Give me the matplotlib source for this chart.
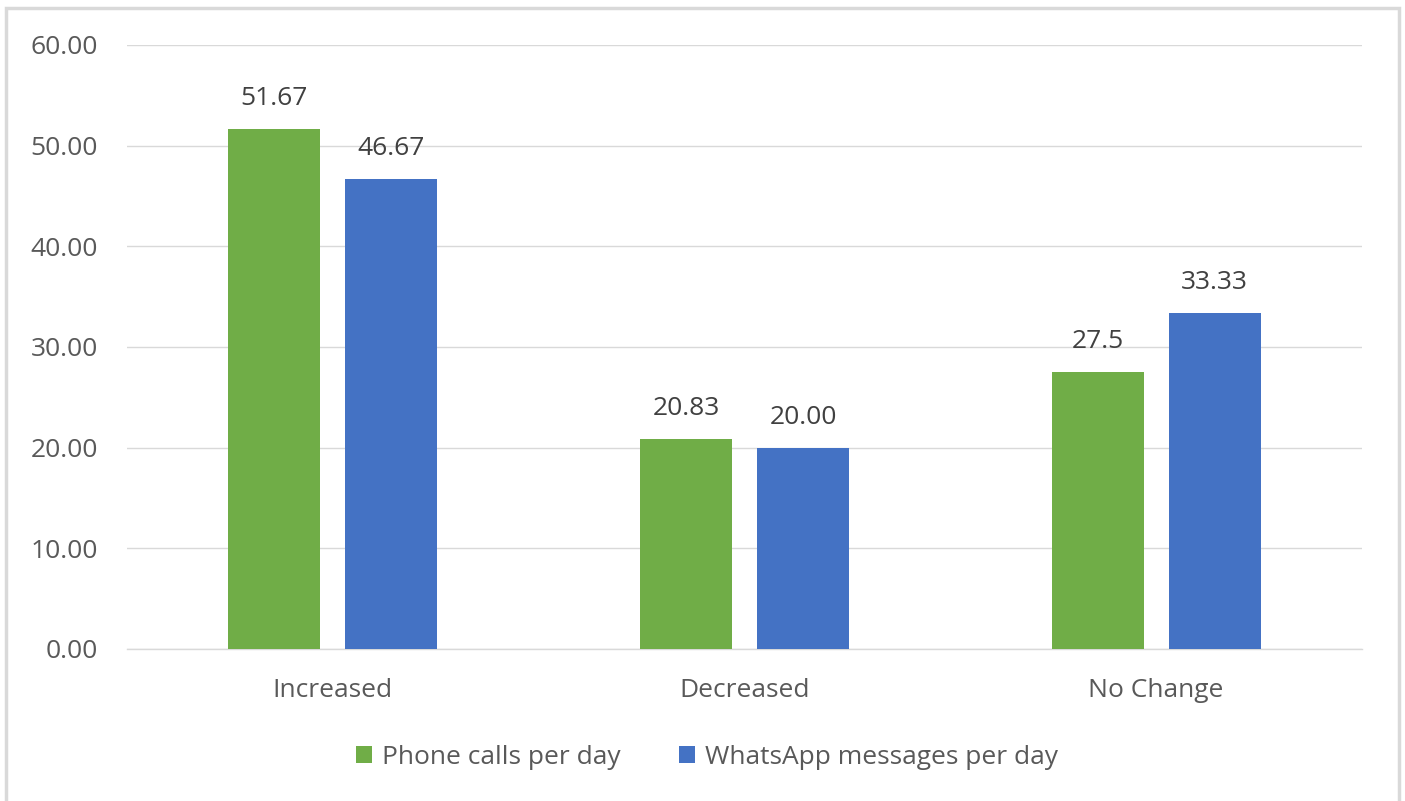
import numpy as np
import matplotlib.pyplot as plt
from matplotlib.patches import Rectangle

categories = ['Increased', 'Decreased', 'No Change']
phone_calls = [51.67, 20.83, 27.5]
whatsapp = [46.67, 20.00, 33.33]
phone_labels = ['51.67', '20.83', '27.5']
whatsapp_labels = ['46.67', '20.00', '33.33']
yticks = [0, 10, 20, 30, 40, 50, 60]

green = '#70AD47'
blue = '#4472C4'
text_col = '#595959'
grid_col = '#D9D9D9'

plt.rcParams['font.family'] = ['Open Sans', 'DejaVu Sans']

fig = plt.figure(figsize=(14.05, 8.01), dpi=100)
ax = fig.add_axes([127 / 1405, 1 - 649 / 801, 1235 / 1405, 604 / 801])

# chart frame
fig.patches.append(Rectangle((6.5 / 1405, -0.05), 1392 / 1405, 1.05 - 8.5 / 801,
                             transform=fig.transFigure, fill=False,
                             edgecolor='#D9D9D9', linewidth=2.5, zorder=0))

x = np.arange(len(categories))
w = 0.224
off = 0.142
b1 = ax.bar(x - off, phone_calls, w, color=green, label='Phone calls per day', zorder=3)
b2 = ax.bar(x + off, whatsapp, w, color=blue, label='WhatsApp messages per day', zorder=3)

for bars, labels in ((b1, phone_labels), (b2, whatsapp_labels)):
    for rect, lab in zip(bars, labels):
        ax.annotate(lab, (rect.get_x() + rect.get_width() / 2, rect.get_height()),
                    xytext=(0, 22), textcoords='offset points',
                    ha='center', va='center', fontsize=19, color='#404040')

ax.set_xlim(-0.5, 2.5)
ax.set_ylim(0, 60)
ax.set_yticks(yticks)
ax.set_yticklabels([f'{v:.2f}' for v in yticks])
ax.set_xticks(x)
ax.set_xticklabels(categories)
ax.tick_params(axis='both', length=0, labelsize=19, labelcolor=text_col)
ax.tick_params(axis='y', pad=21)
ax.tick_params(axis='x', pad=21)
ax.yaxis.grid(True, color=grid_col, linewidth=1)
ax.set_axisbelow(True)
for side in ('top', 'right', 'left'):
    ax.spines[side].set_visible(False)
ax.spines['bottom'].set_color(grid_col)
ax.spines['bottom'].set_linewidth(1)

leg = fig.legend(handles=[b1, b2], loc='center', bbox_to_anchor=(707 / 1405, 1 - 757 / 801),
                 ncol=2, frameon=False, fontsize=19, handlelength=0.6, handleheight=0.6,
                 handletextpad=0.4, columnspacing=2.2)
for t in leg.get_texts():
    t.set_color(text_col)

fig.savefig('out.png', dpi=100)
